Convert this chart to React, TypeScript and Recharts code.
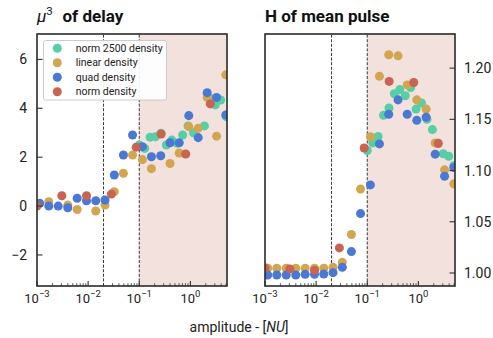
import React from 'react'
import { ScatterChart, Scatter, XAxis, YAxis, ReferenceArea, ReferenceLine } from 'recharts'

// x grids (amplitude, NU)
const quadGrid = [0.00113, 0.0017, 0.0026, 0.004, 0.0061, 0.0093, 0.0141, 0.0214, 0.0325, 0.049, 0.074, 0.115, 0.173, 0.263, 0.4, 0.605, 0.93, 1.42, 2.13, 3.25, 4.93]
const normGrid = [0.001, 0.00306, 0.0093, 0.0285, 0.087, 0.268, 0.81, 2.45]
const norm2500Grid = [0.1, 0.128, 0.163, 0.208, 0.266, 0.339, 0.433, 0.553, 0.706, 0.9, 1.15, 1.47, 1.88, 2.4, 3.06, 3.91, 5.0]

// mu^3 of delay
const delayNorm2500 = [2.5, 2.36, 2.82, 2.84, 2.98, 2.5, 2.7, 2.57, 2.91, 3.28, 3.0, null, 3.28, 4.41, 4.14, 4.34, 3.66]
const delayLinear = [null, 0.18, null, 0.04, -0.14, null, -0.2, 0.04, 0.59, 1.34, 2.09, 1.9, 1.53, null, 1.74, 2.17, 3.25, 3.18, 4.44, 2.86, 5.37]
const delayQuad = [0.11, 0, 0, -0.07, 0.32, 0.22, 0.22, 0.25, 1.27, 2.09, 2.91, 2.43, 2.02, 2.06, 2.59, 2.59, 3.7, 2.8, 4.64, 4.44, 3.73]
const delayNorm = [0, 0.42, 0.42, 0.49, 2.41, 2.95, 2.13, 4.18]

// H of mean pulse
const hNorm2500 = [1.1196, 1.127, 1.1333, 1.154, 1.161, 1.175, 1.179, 1.173, 1.181, 1.16, 1.166, 1.15, 1.14, 1.127, 1.1164, 1.1139, 1.105]
const hLinear = [1.0046, 1.0046, 1.0046, 1.0046, 1.0046, 1.0046, 1.0046, 1.0055, 1.0104, 1.0376, 1.082, 1.133, 1.192, 1.213, 1.212, 1.1836, 1.169, 1.16, 1.127, 1.1007, 1.087]
const hQuad = [0.998, 0.998, 0.998, 0.998, 0.9987, 0.9987, 0.999, 1.0003, 1.0055, 1.0209, 1.058, 1.086, 1.126, 1.155, 1.169, 1.155, 1.149, 1.152, 1.116, 1.0944, 1.103]
const hNorm = [1.005, 1.004, 1.0027, 1.0245, 1.122, 1.187, 1.186, 1.1264]

const xTicks = [
  0.001, 0.002, 0.003, 0.004, 0.005, 0.006, 0.007, 0.008, 0.009,
  0.01, 0.02, 0.03, 0.04, 0.05, 0.06, 0.07, 0.08, 0.09,
  0.1, 0.2, 0.3, 0.4, 0.5, 0.6, 0.7, 0.8, 0.9,
  1, 2, 3, 4, 5,
]
const delayTicks = [-2, 0, 2, 4, 6]
const hTicks = [1.0, 1.05, 1.1, 1.15, 1.2]

const seriesNames = ['norm 2500 density', 'linear density', 'quad density', 'norm density']
const COLORS = ['#55cfa3', '#d2a550', '#4b78d2', '#c86450']

const X_DOMAIN = [0.001, 5.2]
const SHADE = '#f3e1dd'
const FONT = 'Roboto, sans-serif'

const zip = (xs: number[], ys: (number | null)[]) =>
  xs.map((x, i) => ({ x, y: ys[i] })).filter((p) => p.y !== null)

const LogTick = ({ x, y, payload }: any) => {
  const v = payload.value
  const lg = Math.log10(v)
  const exp = Math.round(lg)
  const major = Math.abs(lg - exp) < 1e-6
  return (
    <g>
      <line x1={x} x2={x} y1={y} y2={y - (major ? 5 : 2.8)} stroke="#333" strokeWidth={major ? 1.1 : 0.8} />
      {major && (
        <text x={x} y={y + 17} textAnchor="middle" fontSize={13} fill="#222" fontFamily={FONT}>
          10
          <tspan dy={-6} fontSize={9.5}>
            {exp < 0 ? '\u2212' + Math.abs(exp) : String(exp)}
          </tspan>
        </text>
      )}
    </g>
  )
}

const LeftTick = ({ x, y, payload }: any) => (
  <g>
    <line x1={x} x2={x + 5.5} y1={y} y2={y} stroke="#333" strokeWidth={1.1} />
    <text x={x - 10} y={y} dy="0.36em" textAnchor="end" fontSize={14} fill="#222" fontFamily={FONT}>
      {payload.value < 0 ? '\u2212' + Math.abs(payload.value) : payload.value}
    </text>
  </g>
)

const RightTick = ({ x, y, payload }: any) => (
  <g>
    <line x1={x} x2={x - 5.5} y1={y} y2={y} stroke="#333" strokeWidth={1.1} />
    <text x={x + 9} y={y} dy="0.36em" textAnchor="start" fontSize={14} fill="#222" fontFamily={FONT}>
      {Number(payload.value).toFixed(2)}
    </text>
  </g>
)

function Panel({ yDomain, yTicks, right, series, grids }: any) {
  return (
    <ScatterChart
      width={right ? 243 : 250}
      height={338}
      margin={right ? { top: 34, right: 8, bottom: 22, left: 15 } : { top: 34, right: 23, bottom: 22, left: 7 }}
    >
      <XAxis
        dataKey="x"
        type="number"
        scale="log"
        domain={X_DOMAIN}
        allowDataOverflow
        ticks={xTicks}
        interval={0}
        height={30}
        tickSize={0}
        tickMargin={0}
        axisLine={false}
        tickLine={false}
        tick={(p: any) => <LogTick {...p} />}
      />
      <YAxis
        dataKey="y"
        type="number"
        domain={yDomain}
        allowDataOverflow
        ticks={yTicks}
        interval={0}
        width={30}
        tickSize={0}
        tickMargin={0}
        axisLine={false}
        tickLine={false}
        orientation={right ? 'right' : 'left'}
        tick={(p: any) => (right ? <RightTick {...p} /> : <LeftTick {...p} />)}
      />
      <ReferenceArea x1={0.1} x2={X_DOMAIN[1]} y1={yDomain[0]} y2={yDomain[1]} fill={SHADE} fillOpacity={1} stroke="none" />
      <ReferenceLine x={0.02} stroke="#222" strokeWidth={0.9} strokeDasharray="3 1.6" />
      <ReferenceLine x={0.1} stroke="#222" strokeWidth={0.9} strokeDasharray="3 1.6" />
      {series.map((vals: any, i: number) => (
        <Scatter
          key={seriesNames[i]}
          name={seriesNames[i]}
          data={zip(grids[i], vals)}
          fill={COLORS[i]}
          isAnimationActive={false}
        />
      ))}
    </ScatterChart>
  )
}

export default function App() {
  const grids = [norm2500Grid, quadGrid, quadGrid, normGrid]
  return (
    <div style={{ position: 'absolute', left: 0, top: 0, width: 493, height: 338, background: '#fff' }}>
      <div style={{ position: 'absolute', left: 0, top: 0 }}>
        <Panel
          yDomain={[-3.27, 7.04]}
          yTicks={delayTicks}
          series={[delayNorm2500, delayLinear, delayQuad, delayNorm]}
          grids={grids}
        />
      </div>
      <div style={{ position: 'absolute', left: 250, top: 0 }}>
        <Panel
          right
          yDomain={[0.9873, 1.2333]}
          yTicks={hTicks}
          series={[hNorm2500, hLinear, hQuad, hNorm]}
          grids={grids}
        />
      </div>
      <svg
        width={493}
        height={338}
        style={{ position: 'absolute', left: 0, top: 0, pointerEvents: 'none' }}
        fontFamily={FONT}
      >
        <rect x={37} y={34} width={190} height={252} fill="none" stroke="#2a2a2a" strokeWidth={1.6} />
        <rect x={265} y={34} width={190} height={252} fill="none" stroke="#2a2a2a" strokeWidth={1.6} />

        <text x={37} y={21.5} fontSize={17} fill="#111">
          <tspan fontStyle="italic">μ</tspan>
          <tspan dy={-6.5} fontSize={11.5}>3</tspan>
        </text>
        <text x={62.5} y={21.5} fontSize={17} fontWeight="bold" fill="#111">of delay</text>
        <text x={265} y={21.5} fontSize={17} fontWeight="bold" fill="#111">H of mean pulse</text>

        <text x={239} y={332} fontSize={14} textAnchor="middle" fill="#222">
          amplitude - [<tspan fontStyle="italic">NU</tspan>]
        </text>

        <rect x={43.5} y={40.5} width={123} height={59.5} rx={2} fill="#fff" fillOpacity={0.92} stroke="#cccccc" strokeWidth={1} />
        {seriesNames.map((n, i) => (
          <g key={n}>
            <circle cx={57.3} cy={48.3 + i * 14.5} r={4.5} fill={COLORS[i]} />
            <text x={75.7} y={48.3 + i * 14.5} dy="0.35em" fontSize={10.5} fill="#222">{n}</text>
          </g>
        ))}
      </svg>
    </div>
  )
}
